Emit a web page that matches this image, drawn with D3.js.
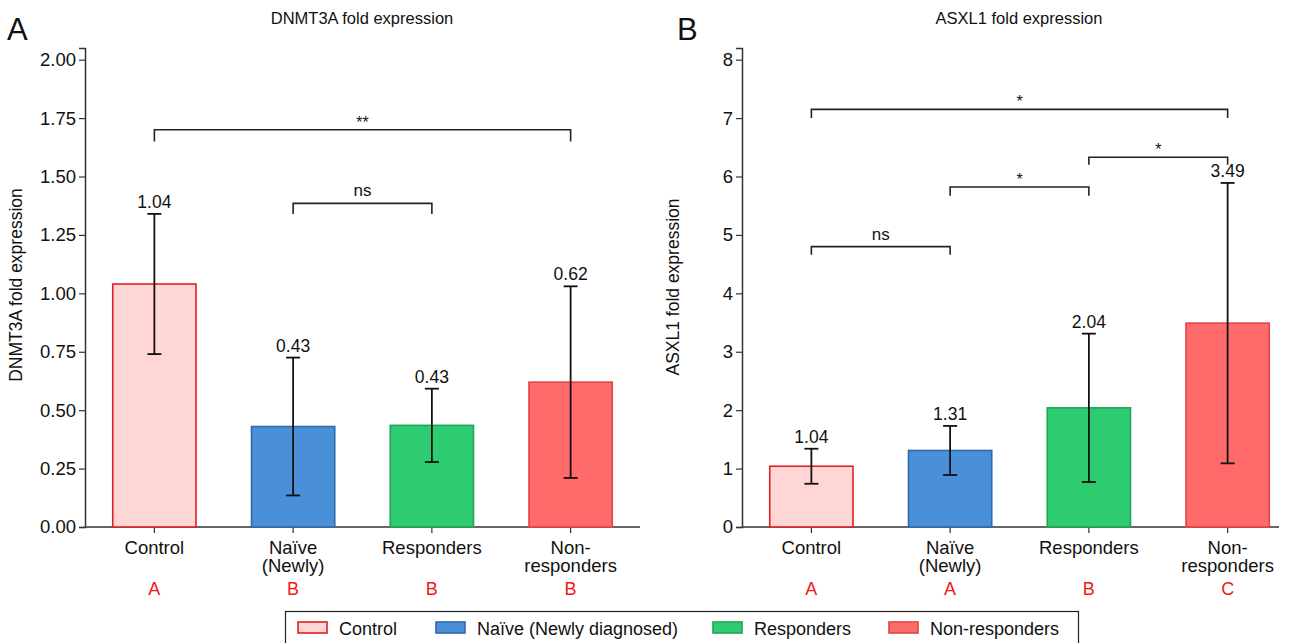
<!DOCTYPE html>
<html>
<head>
<meta charset="utf-8">
<script src="https://cdn.jsdelivr.net/npm/d3@7"></script>
<style>
  body { margin: 0; background: #fff; }
  text { font-family: "Liberation Sans", Arial, sans-serif; }
</style>
</head>
<body>
<svg id="chart" width="1292" height="643"></svg>
<script>
// groups
var groups = ["Control", "Naïve (Newly)", "Responders", "Non-responders"]
var groupLines = [["Control"], ["Naïve", "(Newly)"], ["Responders"], ["Non-", "responders"]]
var legendLabels = ["Control", "Naïve (Newly diagnosed)", "Responders", "Non-responders"]
var fills = ["#ffd6d6", "#4a90d9", "#2ecc71", "#ff6b6b"]
var strokes = ["#dd2222", "#2f6aa8", "#23a35a", "#e04545"]

// DNMT3A
var dnmtMean = [1.04, 0.43, 0.435, 0.62]
var dnmtSd = [0.30, 0.295, 0.157, 0.41]
var dnmtLetters = ["A", "B", "B", "B"]
var dnmtTicks = [0, 0.25, 0.5, 0.75, 1.0, 1.25, 1.5, 1.75, 2.0]
// [from, to, y, tickLen, label]
var dnmtBrackets = [[0, 3, 1.70, 0.05, "**"], [1, 2, 1.385, 0.045, "ns"]]

// ASXL1
var asxlMean = [1.04, 1.31, 2.04, 3.49]
var asxlSd = [0.30, 0.42, 1.27, 2.40]
var asxlLetters = ["A", "A", "B", "C"]
var asxlTicks = [0, 1, 2, 3, 4, 5, 6, 7, 8]
var asxlBrackets = [[0, 3, 7.15, 0.15, "*"], [2, 3, 6.33, 0.13, "*"], [1, 2, 5.82, 0.15, "*"], [0, 1, 4.80, 0.14, "ns"]]

var svg = d3.select("#chart")

function drawPanel(opt) {
  var g = svg.append("g")
  var x = d3.scaleBand()
    .domain(groups)
    .range([opt.left, opt.left + 555])
    .paddingInner(0.4)
    .paddingOuter(0.2)
  var y = d3.scaleLinear().domain([0, opt.ymax]).range([527, 48])

  // y axis
  var yAxis = d3.axisLeft(y).tickValues(opt.ticks).tickSize(6).tickPadding(3)
    .tickFormat(opt.fmt)
  var ya = g.append("g").attr("transform", `translate(${opt.left},0)`).call(yAxis)
  ya.select(".domain").attr("stroke", "#333").attr("stroke-width", 1.5)
  ya.selectAll(".tick line").attr("stroke", "#333").attr("stroke-width", 1.2)
  ya.selectAll(".tick text").attr("font-size", 18.5).attr("fill", "#111")
    .style("font-family", "Liberation Sans, Arial, sans-serif")

  // x axis
  var xAxis = d3.axisBottom(x).tickSize(6).tickFormat("")
  var xa = g.append("g").attr("transform", "translate(0,527)").call(xAxis)
  xa.select(".domain").attr("d", `M${opt.left},0H${opt.xEnd}`).attr("stroke", "#333").attr("stroke-width", 1.5)
  xa.selectAll(".tick line").attr("stroke", "#333").attr("stroke-width", 1.2)

  groups.forEach(function(gr, i) {
    var cx = x(gr) + x.bandwidth() / 2
    var t = g.append("text").attr("x", cx).attr("y", 554)
      .attr("text-anchor", "middle").attr("font-size", 18.5).attr("fill", "#111")
    groupLines[i].forEach(function(line, j) {
      t.append("tspan").attr("x", cx).attr("dy", j === 0 ? 0 : 18).text(line)
    })
    g.append("text").attr("x", cx).attr("y", 595)
      .attr("text-anchor", "middle").attr("font-size", 18).attr("fill", "#f01818").text(opt.letters[i])
  })

  // bars
  g.selectAll("rect.bar").data(opt.mean).enter().append("rect")
    .attr("class", "bar")
    .attr("x", (d, i) => x(groups[i]))
    .attr("width", x.bandwidth())
    .attr("y", d => y(d))
    .attr("height", d => y(0) - y(d))
    .attr("fill", (d, i) => fills[i])
    .attr("stroke", (d, i) => strokes[i])
    .attr("stroke-width", 1.6)

  // error bars
  opt.mean.forEach(function(m, i) {
    var cx = x(groups[i]) + x.bandwidth() / 2
    var lo = m - opt.sd[i], hi = m + opt.sd[i]
    var eg = g.append("g").attr("stroke", "#111").attr("stroke-width", 1.8)
    eg.append("line").attr("x1", cx).attr("x2", cx).attr("y1", y(lo)).attr("y2", y(hi))
    eg.append("line").attr("x1", cx - 7).attr("x2", cx + 7).attr("y1", y(lo)).attr("y2", y(lo))
    eg.append("line").attr("x1", cx - 7).attr("x2", cx + 7).attr("y1", y(hi)).attr("y2", y(hi))
    g.append("text").attr("x", cx).attr("y", y(hi) - 6)
      .attr("text-anchor", "middle").attr("font-size", 17.5).attr("fill", "#111")
      .text(d3.format(".2f")(m))
  })

  // significance brackets
  opt.brackets.forEach(function(b) {
    var x1 = x(groups[b[0]]) + x.bandwidth() / 2
    var x2 = x(groups[b[1]]) + x.bandwidth() / 2
    g.append("path")
      .attr("d", `M${x1},${y(b[2] - b[3])}V${y(b[2])}H${x2}V${y(b[2] - b[3])}`)
      .attr("fill", "none").attr("stroke", "#222").attr("stroke-width", 1.6)
    g.append("text").attr("x", (x1 + x2) / 2).attr("y", y(b[2]) - (b[4] === "ns" ? 7 : 2))
      .attr("text-anchor", "middle").attr("font-size", b[4] === "ns" ? 17 : 16).attr("fill", "#111")
      .text(b[4])
  })

  // titles
  g.append("text").attr("x", opt.left + 277).attr("y", 24)
    .attr("text-anchor", "middle").attr("font-size", 16.5).attr("fill", "#111").text(opt.title)
  g.append("text").attr("x", opt.letterX).attr("y", 40)
    .attr("font-size", 31).attr("fill", "#111").text(opt.letter)
  g.append("text")
    .attr("transform", `translate(${opt.left - 63},${opt.labelY}) rotate(-90)`)
    .attr("text-anchor", "middle").attr("font-size", 17.5).attr("fill", "#111").text(opt.ylabel)
}

drawPanel({
  left: 85, xEnd: 640, ymax: 2.05, ticks: dnmtTicks, fmt: d3.format(".2f"),
  mean: dnmtMean, sd: dnmtSd, letters: dnmtLetters, brackets: dnmtBrackets,
  title: "DNMT3A fold expression", letter: "A", letterX: 7,
  ylabel: "DNMT3A fold expression", labelY: 285
})

drawPanel({
  left: 742, xEnd: 1279, ymax: 8.2, ticks: asxlTicks, fmt: d3.format("d"),
  mean: asxlMean, sd: asxlSd, letters: asxlLetters, brackets: asxlBrackets,
  title: "ASXL1 fold expression", letter: "B", letterX: 677,
  ylabel: "ASXL1 fold expression", labelY: 287
})

// legend
var legX = [298, 436, 713, 889]
var lg = svg.append("g")
lg.append("rect").attr("x", 285.5).attr("y", 611.5).attr("width", 793).attr("height", 40)
  .attr("fill", "#fff").attr("stroke", "#222").attr("stroke-width", 1.2)
legendLabels.forEach(function(l, i) {
  lg.append("rect").attr("x", legX[i]).attr("y", 622).attr("width", 29).attr("height", 11)
    .attr("fill", fills[i]).attr("stroke", strokes[i]).attr("stroke-width", 1.6)
  lg.append("text").attr("x", legX[i] + 41).attr("y", 635)
    .attr("font-size", 18).attr("fill", "#111").text(l)
})
</script>
</body>
</html>
